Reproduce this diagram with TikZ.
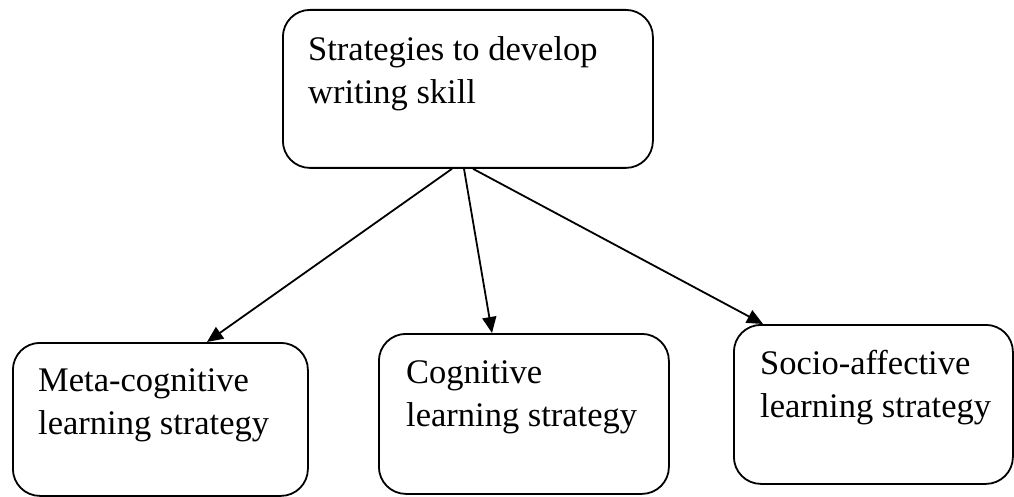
\documentclass[tikz,border=0pt]{standalone}
\usepackage{fontspec}
\setmainfont{Liberation Serif}
\usetikzlibrary{arrows.meta,calc}
\tikzset{
  box/.style={draw, line width=1.8pt, rounded corners=27pt, inner sep=0pt, anchor=north west},
  txt/.style={anchor=north west, inner sep=0pt, align=left,
              font=\fontsize{34.5}{43}\selectfont},
  link/.style={line width=1.8pt, -{Triangle[length=16pt,width=14pt]}}
}
\newcommand{\lineup}{\rule{0pt}{30pt}}
\begin{document}
\begin{tikzpicture}[x=1pt,y=-1pt]
  \useasboundingbox (0,0) rectangle (1014,497);

  % boxes
  \node[box, minimum width=370pt, minimum height=158pt] (top) at (282,9) {};
  \node[box, minimum width=295pt, minimum height=153pt] (meta) at (12,342) {};
  \node[box, minimum width=290pt, minimum height=160pt] (cog) at (378,333) {};
  \node[box, minimum width=279pt, minimum height=159pt] (socio) at (733,324) {};

  % box texts (baseline minus strut height)
  \node[txt] (toptext) at (308,30) {\lineup Strategies to develop\\\lineup writing skill};
  \node[txt] (metatext) at (38,361) {\lineup Meta-cognitive\\\lineup learning strategy};
  \node[txt] (cogtext) at (406,353) {\lineup Cognitive\\\lineup learning strategy};
  \node[txt] (sociotext) at (760,344) {\lineup Socio-affective\\\lineup learning strategy};

  % connectors
  \coordinate (s1) at ($(top.south west)+(170pt,0)$);
  \coordinate (s2) at ($(top.south west)+(182pt,0)$);
  \coordinate (s3) at ($(top.south west)+(191pt,0)$);
  \coordinate (e1) at ($(meta.north west)+(195pt,0)$);
  \coordinate (e2) at ($(cog.north west)+(114pt,0)$);
  \coordinate (e3) at ($(socio.north west)+(30pt,0)$);
  \draw[link] (s1) -- (e1);
  \draw[link] (s2) -- (e2);
  \draw[link] (s3) -- (e3);
\end{tikzpicture}
\end{document}
